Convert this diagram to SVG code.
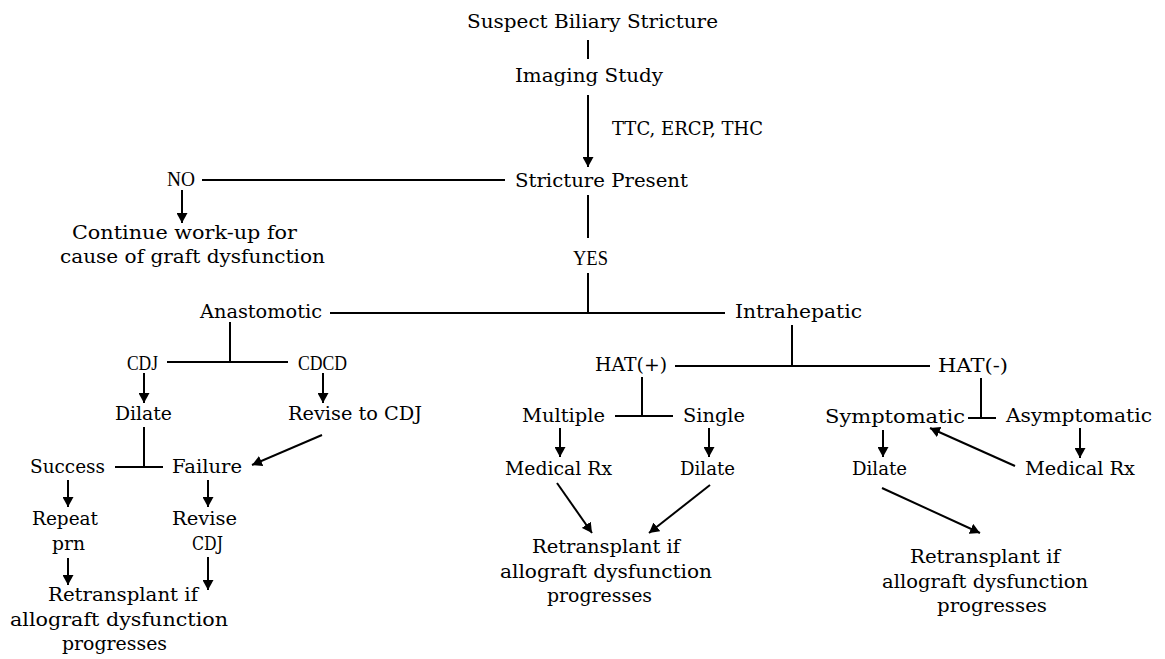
<svg xmlns="http://www.w3.org/2000/svg" width="1165" height="659" viewBox="0 0 1165 659">
<style>
text { font-family: "DejaVu Serif", "Liberation Serif", serif; font-size: 18.5px; fill: #000; }
text.t { font-family: "Liberation Serif", "Times New Roman", serif; font-size: 21px; }
.c line { stroke: #000; stroke-width: 2; fill: none; }
.c .a { marker-end: url(#ah); }
</style>
<defs>
<marker id="ah" markerUnits="userSpaceOnUse" markerWidth="11" markerHeight="11" refX="10" refY="5.5" orient="auto">
<path d="M0,0 L10,5.5 L0,11 z" fill="#000"/>
</marker>
</defs>
<rect width="1165" height="659" fill="#fff"/>
<g class="c" id="connectors">
<line x1="588" y1="40" x2="588" y2="59"/>
<line class="a" x1="588" y1="95" x2="588" y2="167"/>
<line x1="202" y1="180" x2="505" y2="180"/>
<line class="a" x1="182" y1="190" x2="182" y2="223"/>
<line x1="588" y1="195" x2="588" y2="238"/>
<line x1="588" y1="273" x2="588" y2="313"/>
<line x1="330" y1="313" x2="725" y2="313"/>
<line x1="230" y1="322" x2="230" y2="362"/>
<line x1="167" y1="362" x2="288" y2="362"/>
<line class="a" x1="144" y1="373" x2="144" y2="403"/>
<line class="a" x1="323" y1="373" x2="323" y2="403"/>
<line x1="144" y1="427" x2="144" y2="467"/>
<line x1="115" y1="467" x2="163" y2="467"/>
<line class="a" x1="322" y1="435" x2="252" y2="465"/>
<line class="a" x1="68" y1="480" x2="68" y2="507"/>
<line class="a" x1="208" y1="480" x2="208" y2="507"/>
<line class="a" x1="68" y1="558" x2="68" y2="585"/>
<line class="a" x1="208" y1="557" x2="208" y2="590"/>
<line x1="792" y1="325" x2="792" y2="366"/>
<line x1="675" y1="366" x2="930" y2="366"/>
<line x1="642" y1="377" x2="642" y2="416"/>
<line x1="615" y1="416" x2="673" y2="416"/>
<line class="a" x1="560" y1="428" x2="560" y2="457"/>
<line class="a" x1="709" y1="428" x2="709" y2="457"/>
<line class="a" x1="557" y1="483" x2="592" y2="533"/>
<line class="a" x1="710" y1="485" x2="649" y2="533"/>
<line x1="981" y1="378" x2="981" y2="418"/>
<line x1="968" y1="418" x2="996" y2="418"/>
<line class="a" x1="883" y1="430" x2="883" y2="457"/>
<line class="a" x1="1080" y1="428" x2="1080" y2="458"/>
<line class="a" x1="1015" y1="466" x2="930" y2="428"/>
<line class="a" x1="882" y1="488" x2="980" y2="533"/>
</g>
<g id="n-suspect"><text x="467" y="28" textLength="251" lengthAdjust="spacingAndGlyphs">Suspect Biliary Stricture</text></g>
<g id="n-imaging"><text x="515" y="82" textLength="148" lengthAdjust="spacingAndGlyphs">Imaging Study</text></g>
<g id="l-ttc"><text x="612" y="135" textLength="151" lengthAdjust="spacingAndGlyphs">TTC, ERCP, THC</text></g>
<g id="n-stricture"><text x="515" y="187" textLength="173" lengthAdjust="spacingAndGlyphs">Stricture Present</text></g>
<g id="n-no"><text class="t" x="167" y="186" textLength="28" lengthAdjust="spacingAndGlyphs">NO</text></g>
<g id="n-continue"><text x="72" y="239" textLength="225" lengthAdjust="spacingAndGlyphs">Continue work-up for</text><text x="60" y="263" textLength="265" lengthAdjust="spacingAndGlyphs">cause of graft dysfunction</text></g>
<g id="n-yes"><text class="t" x="573" y="265" textLength="35" lengthAdjust="spacingAndGlyphs">YES</text></g>
<g id="n-anast"><text x="200" y="318" textLength="122" lengthAdjust="spacingAndGlyphs">Anastomotic</text></g>
<g id="n-intra"><text x="735" y="318" textLength="127" lengthAdjust="spacingAndGlyphs">Intrahepatic</text></g>
<g id="n-cdj"><text class="t" x="127" y="370" textLength="31" lengthAdjust="spacingAndGlyphs">CDJ</text></g>
<g id="n-cdcd"><text class="t" x="298" y="370" textLength="49" lengthAdjust="spacingAndGlyphs">CDCD</text></g>
<g id="n-dilate1"><text x="115" y="420" textLength="57" lengthAdjust="spacingAndGlyphs">Dilate</text></g>
<g id="n-revise1"><text x="288" y="420" textLength="134" lengthAdjust="spacingAndGlyphs">Revise to CDJ</text></g>
<g id="n-success"><text x="30" y="473" textLength="75" lengthAdjust="spacingAndGlyphs">Success</text></g>
<g id="n-failure"><text x="172" y="473" textLength="70" lengthAdjust="spacingAndGlyphs">Failure</text></g>
<g id="n-repeat"><text x="32" y="525" textLength="66" lengthAdjust="spacingAndGlyphs">Repeat</text><text x="52" y="550" textLength="33" lengthAdjust="spacingAndGlyphs">prn</text></g>
<g id="n-revise2"><text x="172" y="525" textLength="65" lengthAdjust="spacingAndGlyphs">Revise</text><text x="192" y="550" textLength="31" lengthAdjust="spacingAndGlyphs">CDJ</text></g>
<g id="n-retx1"><text x="48" y="601" textLength="150" lengthAdjust="spacingAndGlyphs">Retransplant if</text><text x="10" y="626" textLength="218" lengthAdjust="spacingAndGlyphs">allograft dysfunction</text><text x="62" y="650" textLength="105" lengthAdjust="spacingAndGlyphs">progresses</text></g>
<g id="n-hatp"><text x="595" y="371" textLength="72" lengthAdjust="spacingAndGlyphs">HAT(+)</text></g>
<g id="n-hatm"><text x="938" y="372" textLength="70" lengthAdjust="spacingAndGlyphs">HAT(-)</text></g>
<g id="n-multiple"><text x="522" y="422" textLength="83" lengthAdjust="spacingAndGlyphs">Multiple</text></g>
<g id="n-single"><text x="683" y="422" textLength="62" lengthAdjust="spacingAndGlyphs">Single</text></g>
<g id="n-medrx1"><text x="505" y="475" textLength="107" lengthAdjust="spacingAndGlyphs">Medical Rx</text></g>
<g id="n-dilate2"><text x="680" y="475" textLength="55" lengthAdjust="spacingAndGlyphs">Dilate</text></g>
<g id="n-retx2"><text x="532" y="553" textLength="148" lengthAdjust="spacingAndGlyphs">Retransplant if</text><text x="500" y="578" textLength="212" lengthAdjust="spacingAndGlyphs">allograft dysfunction</text><text x="547" y="602" textLength="105" lengthAdjust="spacingAndGlyphs">progresses</text></g>
<g id="n-sympt"><text x="825" y="423" textLength="140" lengthAdjust="spacingAndGlyphs">Symptomatic</text></g>
<g id="n-asympt"><text x="1006" y="422" textLength="146" lengthAdjust="spacingAndGlyphs">Asymptomatic</text></g>
<g id="n-dilate3"><text x="852" y="475" textLength="55" lengthAdjust="spacingAndGlyphs">Dilate</text></g>
<g id="n-medrx2"><text x="1025" y="475" textLength="110" lengthAdjust="spacingAndGlyphs">Medical Rx</text></g>
<g id="n-retx3"><text x="910" y="563" textLength="150" lengthAdjust="spacingAndGlyphs">Retransplant if</text><text x="882" y="588" textLength="206" lengthAdjust="spacingAndGlyphs">allograft dysfunction</text><text x="937" y="612" textLength="110" lengthAdjust="spacingAndGlyphs">progresses</text></g>
</svg>
